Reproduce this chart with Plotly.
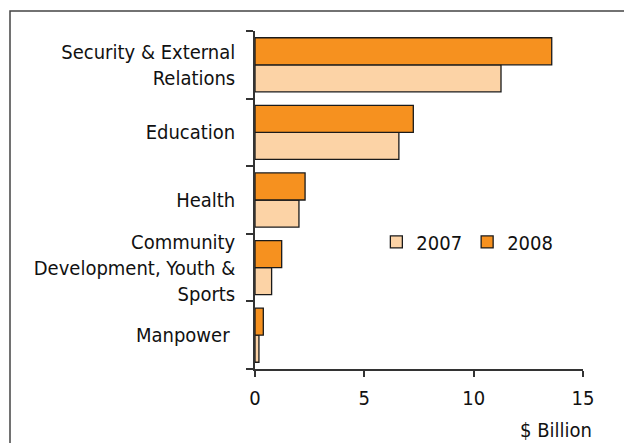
import plotly.graph_objects as go

categories = ["Security & External<br>Relations", "Education", "Health",
              "Community<br>Development, Youth &<br>Sports", "Manpower "]
values_2007 = [11.25, 6.58, 2.01, 0.76, 0.18]
values_2008 = [13.57, 7.24, 2.29, 1.22, 0.38]
x_ticks = [0, 5, 10, 15]

FONT = "DejaVu Sans Condensed"
C2007 = "#FCD3A6"
C2008 = "#F6911F"
LINE = "#1a1a1a"
FS = 20

fig = go.Figure()
fig.add_trace(go.Bar(y=categories, x=values_2007, orientation="h", name="2007",
                     marker=dict(color=C2007, line=dict(color=LINE, width=1.3))))
fig.add_trace(go.Bar(y=categories, x=values_2008, orientation="h", name="2008",
                     marker=dict(color=C2008, line=dict(color=LINE, width=1.3))))

fig.update_layout(
    width=624, height=443,
    margin=dict(l=255, r=41, t=31, b=74),
    paper_bgcolor="white", plot_bgcolor="white",
    barmode="group", bargap=0.2, bargroupgap=0,
    font=dict(family=FONT, size=FS, color="#111"),
    showlegend=True,
    legend=dict(orientation="h", x=0.37, y=0.376, xanchor="left", yanchor="middle",
                font=dict(family=FONT, size=FS, color="#111"),
                bgcolor="rgba(0,0,0,0)", traceorder="normal", itemwidth=30),
    xaxis=dict(range=[0, 15], tickvals=x_ticks, ticktext=[str(v) for v in x_ticks],
               showgrid=False, zeroline=False, showline=True, linecolor="#333",
               linewidth=1.5, ticks="outside", ticklen=6, tickcolor="#333",
               tickwidth=1.5, ticklabelstandoff=4,
               tickfont=dict(family=FONT, size=FS, color="#111")),
    yaxis=dict(type="category", categoryorder="array",
               categoryarray=list(reversed(categories)),
               showgrid=False, zeroline=False, showline=True, linecolor="#333",
               linewidth=1.5, ticks="outside", ticklen=7, tickcolor="#333",
               tickwidth=1.5, tickson="boundaries", ticklabelstandoff=14,
               tickfont=dict(family=FONT, size=FS, color="#111")),
    shapes=[dict(type="rect", xref="paper", yref="paper",
                 x0=(10 - 255) / 328, x1=1.5, y0=-0.5, y1=(369 - 11) / 338,
                 line=dict(color="#444", width=1.5), layer="below")],
    annotations=[dict(text="$ Billion", xref="paper", yref="paper",
                      x=(594 - 255) / 328, y=(369 - 430) / 338,
                      xanchor="right", yanchor="middle", showarrow=False,
                      font=dict(family=FONT, size=FS, color="#111"))],
)

fig.write_html("out.html")
